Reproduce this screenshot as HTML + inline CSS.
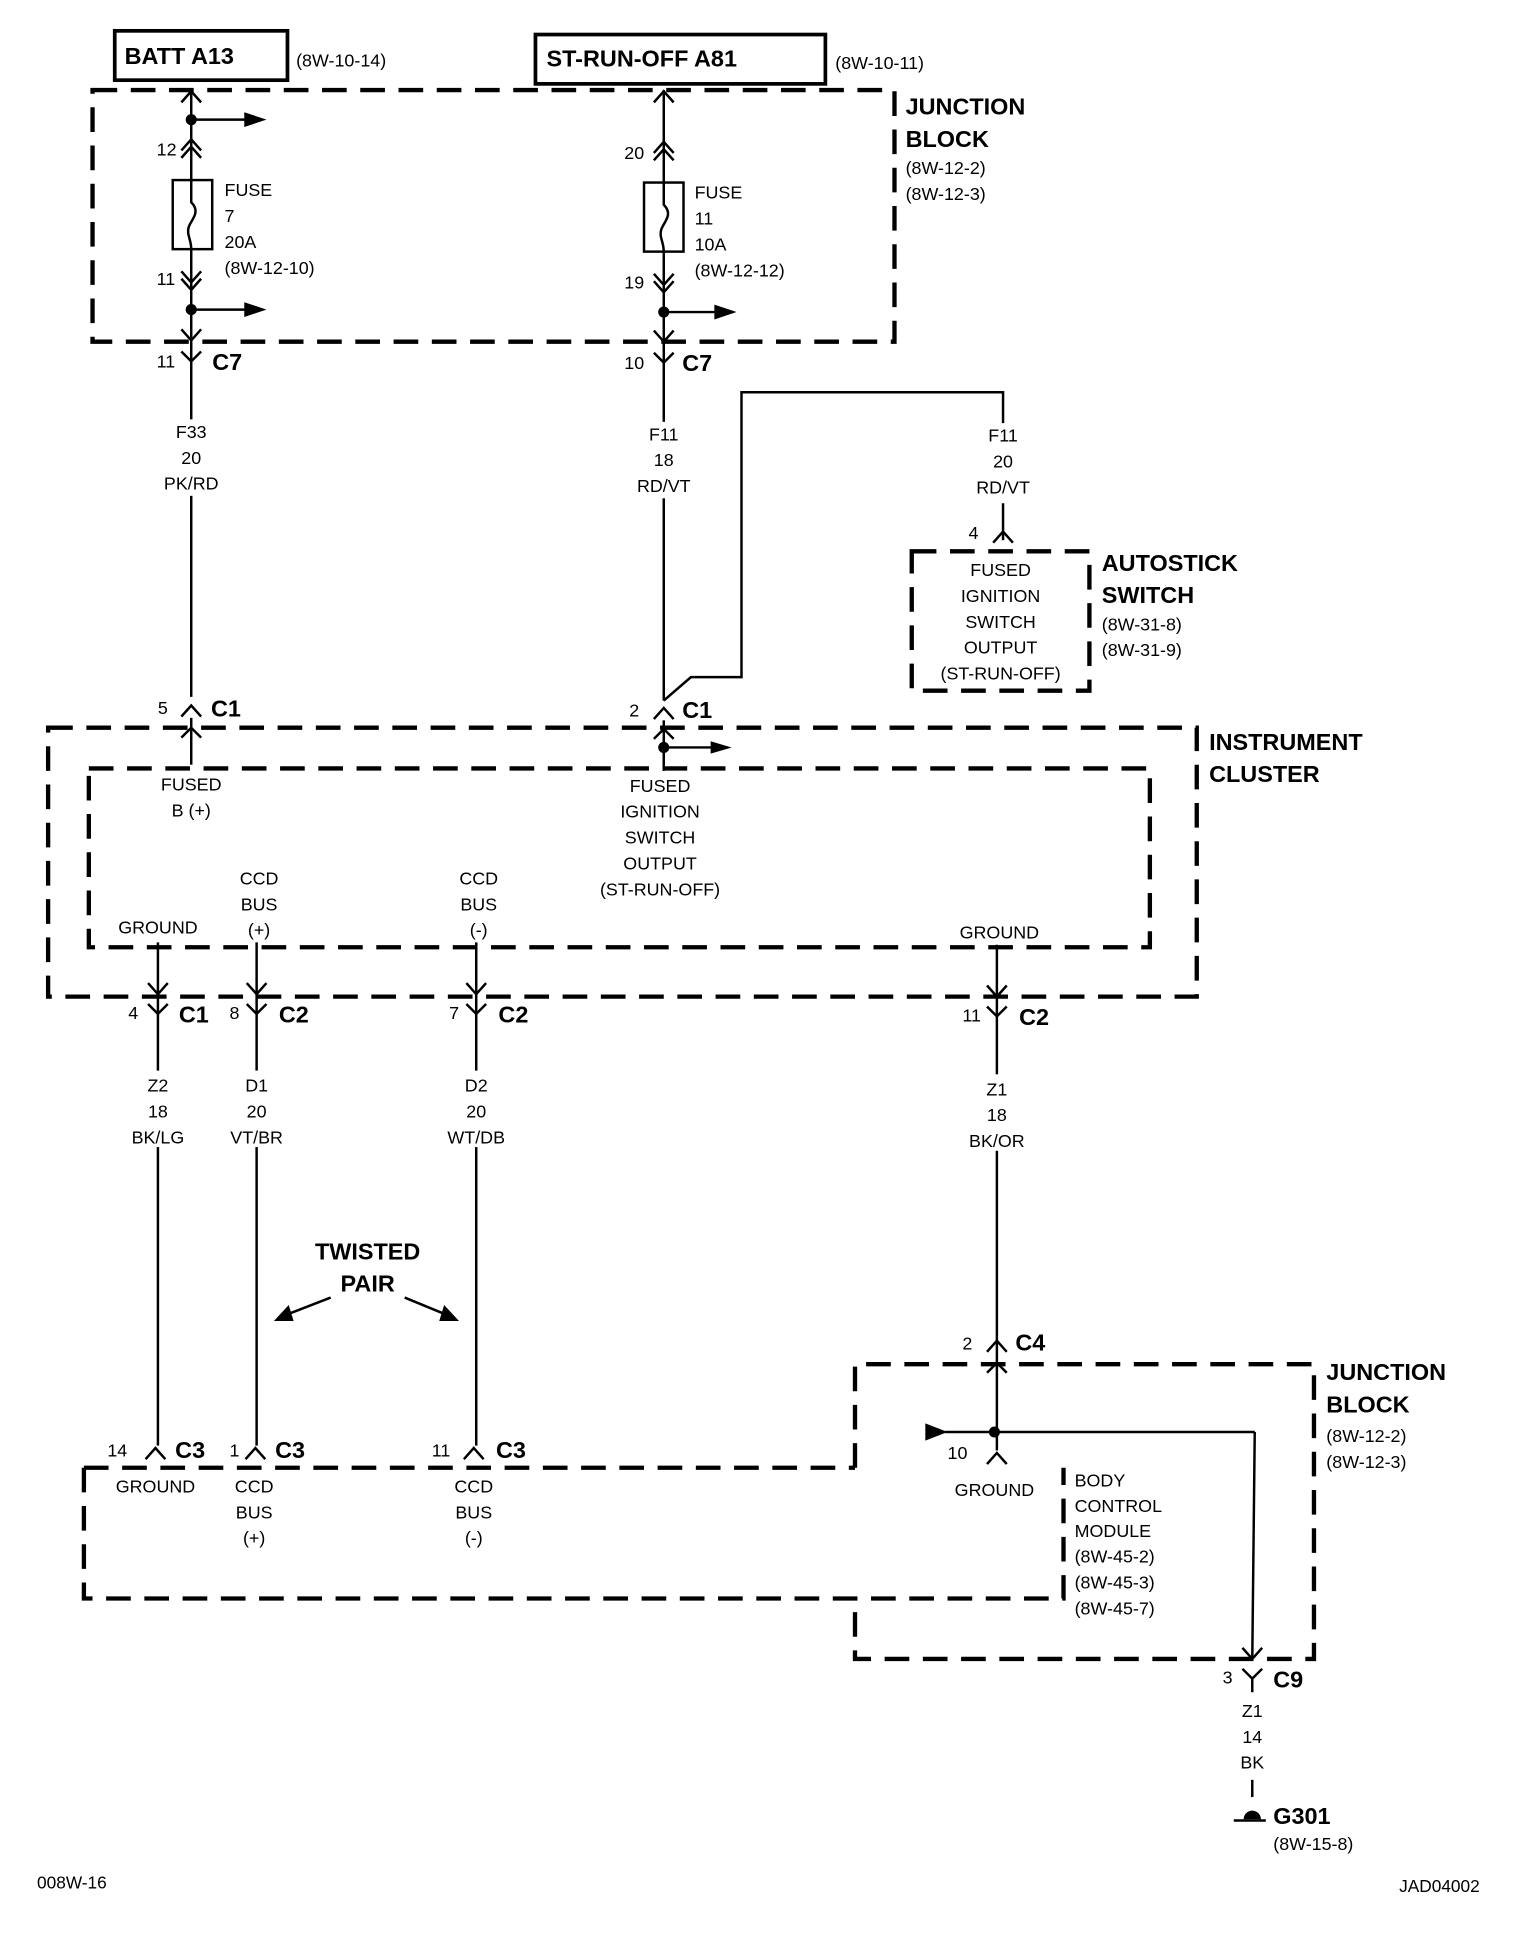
<!DOCTYPE html>
<html><head><meta charset="utf-8"><style>
html,body{margin:0;padding:0;background:#fff;}
svg{display:block;}
text{font-family:"Liberation Sans Narrow","Liberation Sans",sans-serif;font-size:14.5px;fill:#000;}
.b{font-weight:bold;font-size:19px;}
.c{text-anchor:middle;}
.l{stroke:#000;stroke-width:2;fill:none;}
.d{stroke:#000;stroke-width:3.5;fill:none;stroke-dasharray:20 11;}
</style></head><body>
<svg width="1520" height="1934" viewBox="0 0 1232 1568" preserveAspectRatio="none" xmlns="http://www.w3.org/2000/svg">
<!-- top boxes -->
<rect x="93" y="25" width="140" height="40" fill="none" stroke="#000" stroke-width="3"/>
<text x="101" y="52" class="b">BATT A13</text>
<text x="240" y="54">(8W-10-14)</text>
<rect x="434" y="28" width="235" height="40" fill="none" stroke="#000" stroke-width="3"/>
<text x="443" y="54" class="b">ST-RUN-OFF A81</text>
<text x="677" y="56">(8W-10-11)</text>
<!-- junction block top -->
<rect x="75" y="73" width="650" height="204" class="d"/>
<text x="734" y="93" class="b">JUNCTION</text>
<text x="734" y="119" class="b">BLOCK</text>
<text x="734" y="141">(8W-12-2)</text>
<text x="734" y="162">(8W-12-3)</text>
<!-- left fuse wire -->
<line x1="155" y1="73" x2="155" y2="565" class="l"/>
<polyline points="147,83 155,74 163,83" class="l"/>
<circle cx="155" cy="97" r="4.5"/>
<line x1="155" y1="97" x2="200" y2="97" class="l"/><polygon points="198,91 216,97 198,103"/>
<text x="127" y="126">12</text>
<polyline points="147,122 155,113 163,122" class="l"/><polyline points="147,128 155,119 163,128" class="l"/>
<rect x="140" y="146" width="32" height="56" fill="#fff" stroke="#000" stroke-width="2"/>
<path d="M155,146 v18 c8,8 0,14 -2,20 c-2,6 2,10 2,18" class="l"/>
<text x="182" y="159">FUSE</text><text x="182" y="180">7</text><text x="182" y="201">20A</text><text x="182" y="222">(8W-12-10)</text>
<text x="127" y="231">11</text>
<polyline points="147,220 155,229 163,220" class="l"/><polyline points="147,226 155,235 163,226" class="l"/>
<circle cx="155" cy="251" r="4.5"/>
<line x1="155" y1="251" x2="200" y2="251" class="l"/><polygon points="198,245 216,251 198,257"/>
<polyline points="147,267 155,276 163,267" class="l"/>
<text x="127" y="298">11</text>
<polyline points="147,285 155,293 163,285" class="l"/>
<text x="172" y="300" class="b">C7</text>
<rect x="140" y="340" width="30" height="62" fill="#fff"/>
<text x="155" y="355" class="c">F33</text><text x="155" y="376" class="c">20</text><text x="155" y="397" class="c">PK/RD</text>
<!-- middle fuse wire -->
<line x1="538" y1="73" x2="538" y2="568" class="l"/>
<polyline points="530,83 538,74 546,83" class="l"/>
<text x="506" y="129">20</text>
<polyline points="530,124 538,115 546,124" class="l"/><polyline points="530,130 538,121 546,130" class="l"/>
<rect x="522" y="148" width="32" height="56" fill="#fff" stroke="#000" stroke-width="2"/>
<path d="M538,148 v18 c8,8 0,14 -2,20 c-2,6 2,10 2,18" class="l"/>
<text x="563" y="161">FUSE</text><text x="563" y="182">11</text><text x="563" y="203">10A</text><text x="563" y="224">(8W-12-12)</text>
<text x="506" y="234">19</text>
<polyline points="530,222 538,231 546,222" class="l"/><polyline points="530,228 538,237 546,228" class="l"/>
<circle cx="538" cy="253" r="4.5"/>
<line x1="538" y1="253" x2="581" y2="253" class="l"/><polygon points="579,247 597,253 579,259"/>
<polyline points="530,268 538,277 546,268" class="l"/>
<text x="506" y="299">10</text>
<polyline points="530,286 538,294 546,286" class="l"/>
<text x="553" y="301" class="b">C7</text>
<rect x="515" y="342" width="46" height="62" fill="#fff"/>
<text x="538" y="357" class="c">F11</text><text x="538" y="378" class="c">18</text><text x="538" y="399" class="c">RD/VT</text>
<!-- branch to autostick -->
<polyline points="538,568 560,549 601,549 601,318 813,318 813,343" class="l"/>
<text x="813" y="358" class="c">F11</text><text x="813" y="379" class="c">20</text><text x="813" y="400" class="c">RD/VT</text>
<line x1="813" y1="408" x2="813" y2="438" class="l"/>
<text x="785" y="437">4</text>
<polyline points="805,440 813,431 821,440" class="l"/>
<rect x="739" y="447" width="144" height="113" class="d"/>
<text x="811" y="467" class="c">FUSED</text><text x="811" y="488" class="c">IGNITION</text><text x="811" y="509" class="c">SWITCH</text><text x="811" y="530" class="c">OUTPUT</text><text x="811" y="551" class="c">(ST-RUN-OFF)</text>
<text x="893" y="463" class="b">AUTOSTICK</text><text x="893" y="489" class="b">SWITCH</text>
<text x="893" y="511">(8W-31-8)</text><text x="893" y="532">(8W-31-9)</text>
<!-- instrument cluster -->
<rect x="39" y="590" width="931" height="218" class="d"/>
<rect x="72" y="623" width="860" height="145" class="d"/>
<text x="980" y="608" class="b">INSTRUMENT</text><text x="980" y="634" class="b">CLUSTER</text>
<text x="128" y="579">5</text>
<polyline points="147,581 155,572 163,581" class="l"/>
<text x="171" y="581" class="b">C1</text>
<line x1="155" y1="582" x2="155" y2="620" class="l"/>
<polyline points="147,598 155,590 163,598" class="l"/>
<text x="155" y="641" class="c">FUSED</text><text x="155" y="662" class="c">B (+)</text>
<text x="510" y="581">2</text>
<polyline points="530,583 538,574 546,583" class="l"/>
<text x="553" y="582" class="b">C1</text>
<line x1="538" y1="584" x2="538" y2="625" class="l"/>
<polyline points="530,599 538,591 546,599" class="l"/>
<circle cx="538" cy="606" r="4.5"/>
<line x1="538" y1="606" x2="578" y2="606" class="l"/><polygon points="576,601 593,606 576,611"/>
<text x="535" y="642" class="c">FUSED</text><text x="535" y="663" class="c">IGNITION</text><text x="535" y="684" class="c">SWITCH</text><text x="535" y="705" class="c">OUTPUT</text><text x="535" y="726" class="c">(ST-RUN-OFF)</text>
<text x="128" y="757" class="c">GROUND</text>
<text x="210" y="717" class="c">CCD</text><text x="210" y="738" class="c">BUS</text><text x="210" y="759" class="c">(+)</text>
<text x="388" y="717" class="c">CCD</text><text x="388" y="738" class="c">BUS</text><text x="388" y="759" class="c">(-)</text>
<text x="810" y="761" class="c">GROUND</text>
<!-- wires down from cluster -->
<line x1="128" y1="764" x2="128" y2="1172" class="l"/>
<line x1="208" y1="764" x2="208" y2="1172" class="l"/>
<line x1="386" y1="764" x2="386" y2="1172" class="l"/>
<line x1="808" y1="766" x2="808" y2="1160" class="l"/>
<polyline points="120,797 128,806 136,797" class="l"/>
<polyline points="200,797 208,806 216,797" class="l"/>
<polyline points="378,797 386,806 394,797" class="l"/>
<polyline points="800,799 808,808 816,799" class="l"/>
<polyline points="120,814 128,822 136,814" class="l"/>
<polyline points="200,814 208,822 216,814" class="l"/>
<polyline points="378,814 386,822 394,814" class="l"/>
<polyline points="800,816 808,824 816,816" class="l"/>
<text x="104" y="826">4</text><text x="145" y="829" class="b">C1</text>
<text x="186" y="826">8</text><text x="226" y="829" class="b">C2</text>
<text x="364" y="826">7</text><text x="404" y="829" class="b">C2</text>
<text x="780" y="828">11</text><text x="826" y="831" class="b">C2</text>
<rect x="100" y="868" width="56" height="62" fill="#fff"/>
<rect x="180" y="868" width="56" height="62" fill="#fff"/>
<rect x="358" y="868" width="56" height="62" fill="#fff"/>
<rect x="780" y="871" width="56" height="62" fill="#fff"/>
<text x="128" y="885" class="c">Z2</text><text x="128" y="906" class="c">18</text><text x="128" y="927" class="c">BK/LG</text>
<text x="208" y="885" class="c">D1</text><text x="208" y="906" class="c">20</text><text x="208" y="927" class="c">VT/BR</text>
<text x="386" y="885" class="c">D2</text><text x="386" y="906" class="c">20</text><text x="386" y="927" class="c">WT/DB</text>
<text x="808" y="888" class="c">Z1</text><text x="808" y="909" class="c">18</text><text x="808" y="930" class="c">BK/OR</text>
<!-- twisted pair -->
<text x="298" y="1021" class="b c">TWISTED</text><text x="298" y="1047" class="b c">PAIR</text>
<line x1="268" y1="1052" x2="232" y2="1066" class="l"/><polygon points="222,1071 234,1058 238,1071"/>
<line x1="328" y1="1052" x2="362" y2="1066" class="l"/><polygon points="372,1071 356,1071 360,1058"/>
<!-- bottom connectors C3 -->
<polyline points="118,1183 126,1174 134,1183" class="l"/>
<polyline points="199,1183 207,1174 215,1183" class="l"/>
<polyline points="376,1183 384,1174 392,1183" class="l"/>
<text x="87" y="1181">14</text><text x="142" y="1182" class="b">C3</text>
<text x="186" y="1181">1</text><text x="223" y="1182" class="b">C3</text>
<text x="350" y="1181">11</text><text x="402" y="1182" class="b">C3</text>
<text x="126" y="1210" class="c">GROUND</text>
<text x="206" y="1210" class="c">CCD</text><text x="206" y="1231" class="c">BUS</text><text x="206" y="1252" class="c">(+)</text>
<text x="384" y="1210" class="c">CCD</text><text x="384" y="1231" class="c">BUS</text><text x="384" y="1252" class="c">(-)</text>
<!-- bottom dashed boxes -->
<path d="M68,1190 H693 M68,1190 V1296 H862 V1190" class="d"/>
<path d="M693,1190 V1106 H1065 V1345 H693 V1296" class="d"/>
<text x="1075" y="1119" class="b">JUNCTION</text><text x="1075" y="1145" class="b">BLOCK</text>
<text x="1075" y="1169">(8W-12-2)</text><text x="1075" y="1190">(8W-12-3)</text>
<!-- C4 & BCM -->
<text x="780" y="1094">2</text>
<polyline points="800,1096 808,1087 816,1096" class="l"/>
<text x="823" y="1095" class="b">C4</text>
<polyline points="800,1113 808,1105 816,1113" class="l"/>
<circle cx="806" cy="1161" r="4.5"/>
<line x1="766" y1="1161" x2="1017" y2="1161" class="l"/>
<polygon points="750,1154 768,1161 750,1168"/>
<line x1="808" y1="1161" x2="808" y2="1176" class="l"/>
<polyline points="800,1187 808,1178 816,1187" class="l"/>
<text x="768" y="1183">10</text>
<text x="806" y="1213" class="c">GROUND</text>
<text x="871" y="1205">BODY</text><text x="871" y="1226">CONTROL</text><text x="871" y="1246">MODULE</text>
<text x="871" y="1267">(8W-45-2)</text><text x="871" y="1288">(8W-45-3)</text><text x="871" y="1309">(8W-45-7)</text>
<line x1="1017" y1="1161" x2="1015" y2="1345" class="l"/>
<polyline points="1007,1336 1015,1345 1023,1336" class="l"/>
<polyline points="1007,1353 1015,1361 1023,1353" class="l"/>
<line x1="1015" y1="1361" x2="1015" y2="1372" class="l"/>
<text x="991" y="1365">3</text><text x="1032" y="1368" class="b">C9</text>
<text x="1015" y="1392" class="c">Z1</text><text x="1015" y="1413" class="c">14</text><text x="1015" y="1434" class="c">BK</text>
<line x1="1015" y1="1443" x2="1015" y2="1457" class="l"/>
<path d="M1008,1475 a7,7 0 0 1 14,0 z"/>
<line x1="1000" y1="1476" x2="1026" y2="1476" class="l"/>
<text x="1032" y="1479" class="b">G301</text>
<text x="1032" y="1500">(8W-15-8)</text>
<text x="30" y="1531" style="font-size:14px">008W-16</text>
<text x="1134" y="1534" style="font-size:14px">JAD04002</text>
</svg>
</body></html>
